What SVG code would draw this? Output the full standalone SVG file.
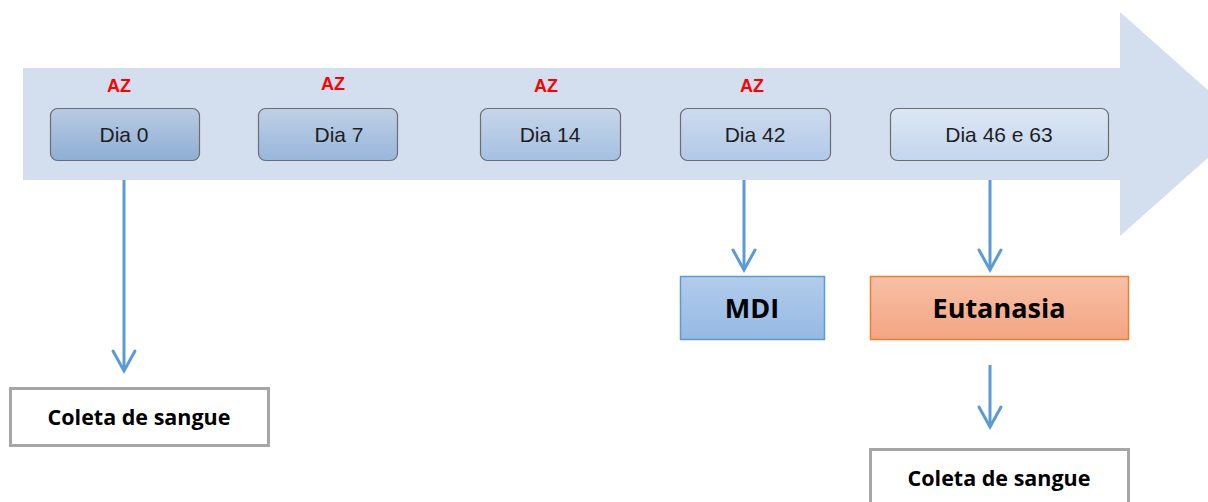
<svg xmlns="http://www.w3.org/2000/svg" width="1208" height="502" viewBox="0 0 1208 502">
  <defs>
    <linearGradient id="g0" x1="0" y1="0" x2="0" y2="1">
      <stop offset="0" stop-color="#b9cbe3"/>
      <stop offset="1" stop-color="#8eaed4"/>
    </linearGradient>
    <linearGradient id="g1" x1="0" y1="0" x2="0" y2="1">
      <stop offset="0" stop-color="#bfd0e6"/>
      <stop offset="1" stop-color="#98b6db"/>
    </linearGradient>
    <linearGradient id="g2" x1="0" y1="0" x2="0" y2="1">
      <stop offset="0" stop-color="#c6d6ea"/>
      <stop offset="1" stop-color="#a5c0e2"/>
    </linearGradient>
    <linearGradient id="g3" x1="0" y1="0" x2="0" y2="1">
      <stop offset="0" stop-color="#cddbee"/>
      <stop offset="1" stop-color="#b1c9e8"/>
    </linearGradient>
    <linearGradient id="g4" x1="0" y1="0" x2="0" y2="1">
      <stop offset="0" stop-color="#dde7f4"/>
      <stop offset="1" stop-color="#c2d6ee"/>
    </linearGradient>
    <linearGradient id="gMdi" x1="0" y1="0" x2="0" y2="1">
      <stop offset="0" stop-color="#b2cceb"/>
      <stop offset="1" stop-color="#96b9e3"/>
    </linearGradient>
    <linearGradient id="gEut" x1="0" y1="0" x2="0" y2="1">
      <stop offset="0" stop-color="#f7c0a6"/>
      <stop offset="1" stop-color="#f4a582"/>
    </linearGradient>
    <!-- open V arrowhead, tip at the line end -->
    <marker id="vhead" markerUnits="userSpaceOnUse" markerWidth="30" markerHeight="30" viewBox="-25 -15 30 30" refX="0" refY="0" orient="auto">
      <path d="M-20,-11 L0,0 L-20,11" fill="none" stroke="#5b9bd5" stroke-width="3" stroke-linecap="round"/>
    </marker>
  </defs>
  <style>
    .day { stroke: #6d6d6d; stroke-width: 1.2; }
    .dayText { font-family: "Liberation Sans", Arial, sans-serif; font-size: 21px; fill: #1e1e1e; text-anchor: middle; }
    .az { font-family: "Liberation Sans", Arial, sans-serif; font-weight: bold; font-size: 18px; fill: #ff0000; text-anchor: middle; }
    .big { font-family: "Open Sans", "Liberation Sans", sans-serif; font-weight: bold; font-size: 27px; fill: #000; text-anchor: middle; }
    .coleta { font-family: "Open Sans", "Liberation Sans", sans-serif; font-weight: bold; font-size: 21.5px; fill: #000; text-anchor: middle; }
    .conn { fill: none; stroke: #5b9bd5; stroke-width: 3; marker-end: url(#vhead); }
  </style>

  <rect width="1208" height="502" fill="#ffffff"/>

  <!-- timeline arrow -->
  <polygon id="timeline" points="23,68 1120,68 1120,12 1246,124 1120,236 1120,180 23,180" fill="#d3deee"/>

  <!-- AZ markers -->
  <g id="az-labels">
    <text class="az" x="119" y="92">AZ</text>
    <text class="az" x="333" y="90">AZ</text>
    <text class="az" x="546" y="92">AZ</text>
    <text class="az" x="752" y="92">AZ</text>
  </g>

  <g id="dia0">
    <rect class="day" x="50.5" y="108.5" width="149" height="52" rx="7" fill="url(#g0)"/>
    <text class="dayText" x="124" y="142">Dia 0</text>
  </g>
  <g id="dia7">
    <rect class="day" x="258.5" y="108.5" width="139" height="52" rx="7" fill="url(#g1)"/>
    <text class="dayText" x="339" y="142">Dia 7</text>
  </g>
  <g id="dia14">
    <rect class="day" x="480.5" y="108.5" width="140" height="52" rx="7" fill="url(#g2)"/>
    <text class="dayText" x="550" y="142">Dia 14</text>
  </g>
  <g id="dia42">
    <rect class="day" x="680.5" y="108.5" width="150" height="52" rx="7" fill="url(#g3)"/>
    <text class="dayText" x="755" y="142">Dia 42</text>
  </g>
  <g id="dia46">
    <rect class="day" x="890.5" y="108.5" width="218" height="52" rx="7" fill="url(#g4)"/>
    <text class="dayText" x="999" y="142">Dia 46 e 63</text>
  </g>

  <g id="mdi">
    <rect x="680.5" y="276.5" width="144" height="63" fill="url(#gMdi)" stroke="#5b9bd5" stroke-width="1.5"/>
    <text class="big" x="752" y="318">MDI</text>
  </g>
  <g id="eutanasia">
    <rect x="870.5" y="276.5" width="258" height="63" fill="url(#gEut)" stroke="#ed7d31" stroke-width="1.5"/>
    <text class="big" x="999" y="318">Eutanasia</text>
  </g>
  <g id="coleta1">
    <rect x="10.5" y="388.5" width="258" height="57" fill="#ffffff" stroke="#a6a6a6" stroke-width="3"/>
    <text class="coleta" x="139" y="425">Coleta de sangue</text>
  </g>
  <g id="coleta2">
    <rect x="870.5" y="449.5" width="258" height="60" fill="#ffffff" stroke="#a6a6a6" stroke-width="3"/>
    <text class="coleta" x="999" y="486">Coleta de sangue</text>
  </g>

  <g id="connectors">
    <line class="conn" x1="124" y1="180" x2="124" y2="371"/>
    <line class="conn" x1="744" y1="180" x2="744" y2="270"/>
    <line class="conn" x1="990" y1="180" x2="990" y2="270"/>
    <line class="conn" x1="990" y1="365" x2="990" y2="427"/>
  </g>
</svg>
